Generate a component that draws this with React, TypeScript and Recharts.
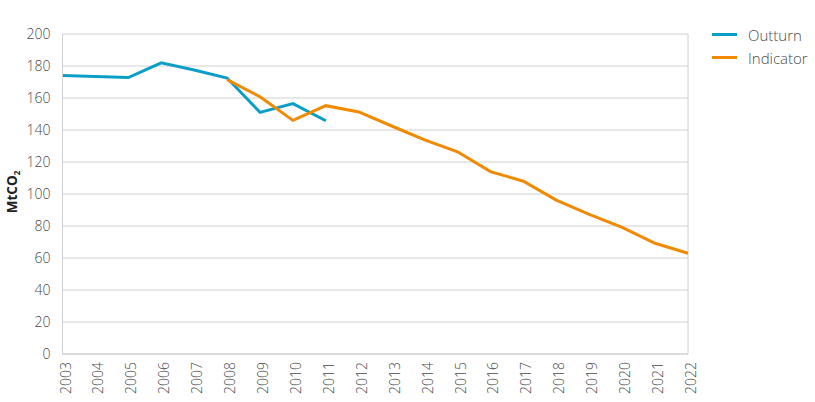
import React from "react";
import { LineChart, Line, XAxis, YAxis, CartesianGrid, ReferenceLine, Label } from "recharts";

const years = [2003, 2004, 2005, 2006, 2007, 2008, 2009, 2010, 2011, 2012, 2013, 2014, 2015, 2016, 2017, 2018, 2019, 2020, 2021, 2022];
const outturn = [174, 173.5, 172.8, 182, 177.5, 172.5, 151, 156.5, 145.8, null, null, null, null, null, null, null, null, null, null, null];
const indicator = [null, null, null, null, null, 171.5, 160.8, 146, 155.2, 151.3, 142.5, 133.8, 126.4, 114, 108, 96.2, 87.3, 79.2, 69.2, 63];
const yTicks = [0, 20, 40, 60, 80, 100, 120, 140, 160, 180, 200];
const seriesNames = ["Outturn", "Indicator"];
const seriesColors = ["#0a9ec8", "#f08a00"];

const data = years.map((y, i) => ({ year: y, outturn: outturn[i], indicator: indicator[i] }));

const FONT = "'Open Sans', sans-serif";
const TEXT = "#4a4a4a";

const XTick = (props: any) => {
  const { x, payload } = props;
  const bx = x + 8;
  const by = 362;
  return (
    <text x={bx} y={by} transform={`rotate(-90 ${bx} ${by})`} textAnchor="end" fontSize={14} fill={TEXT} fontFamily={FONT} fontWeight={300}>
      {payload.value}
    </text>
  );
};

const YLabel = () => {
  const x = 17;
  const y = 192;
  return (
    <text x={x} y={y} transform={`rotate(-90 ${x} ${y})`} textAnchor="middle" fontSize={13.5} fontWeight={700} fill="#222" fontFamily={FONT}>
      MtCO<tspan fontSize={8} dy={3}>2</tspan>
    </text>
  );
};

export default function App() {
  return (
    <div style={{ position: "absolute", left: 0, top: 0, width: 815, height: 402 }}>
      <LineChart width={815} height={402} data={data} margin={{ top: 34, right: 127, left: 0, bottom: 0 }}>
        <CartesianGrid vertical={false} stroke="#d0d0d0" strokeWidth={1} />
        <XAxis
          dataKey="year"
          interval={0}
          tick={<XTick />}
          tickLine={false}
          axisLine={{ stroke: "#d0d0d0" }}
          height={48}
          tickMargin={0}
        />
        <YAxis
          domain={[0, 200]}
          ticks={yTicks}
          width={62.5}
          tickLine={false}
          axisLine={{ stroke: "#d0d0d0" }}
          tick={{ fontSize: 14, fill: TEXT, fontFamily: FONT, fontWeight: 300 }}
          tickMargin={6}
        >
          <Label content={<YLabel />} />
        </YAxis>
        <ReferenceLine x={2022} stroke="#d0d0d0" />
        <Line type="linear" dataKey="outturn" stroke={seriesColors[0]} strokeWidth={3} dot={false} isAnimationActive={false} connectNulls={false} />
        <Line type="linear" dataKey="indicator" stroke={seriesColors[1]} strokeWidth={3} dot={false} isAnimationActive={false} connectNulls={false} />
      </LineChart>
      <div style={{ position: "absolute", left: 712, top: 23, fontFamily: FONT, fontSize: 15, color: TEXT, fontWeight: 300 }}>
        {seriesNames.map((n, i) => (
          <div key={n} style={{ display: "flex", alignItems: "center", height: 23 }}>
            <div style={{ width: 25, height: 3, background: seriesColors[i], marginRight: 11 }} />
            <span>{n}</span>
          </div>
        ))}
      </div>
    </div>
  );
}
